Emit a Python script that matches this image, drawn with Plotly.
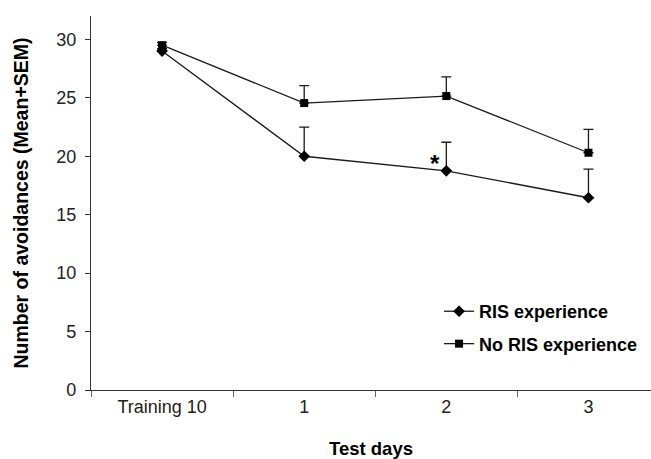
import plotly.graph_objects as go

categories = ["Training 10", "1", "2", "3"]
ris_mean = [29.0, 20.0, 18.75, 16.45]
ris_sem = [0.2, 2.5, 2.45, 2.45]
noris_mean = [29.5, 24.55, 25.15, 20.3]
noris_sem = [0.25, 1.5, 1.65, 2.0]
y_ticks = [0, 5, 10, 15, 20, 25, 30]

font_family = "Liberation Sans, Arial, sans-serif"
line_col = "#1a1a1a"
fs = 18

fig = go.Figure()
fig.add_trace(go.Scatter(
    x=categories, y=ris_mean, name="RIS experience", mode="lines+markers",
    legendgroup="a",
    line=dict(color=line_col, width=1.3),
    marker=dict(symbol="diamond", size=9, color="black"),
    error_y=dict(type="data", symmetric=False, array=ris_sem,
                 arrayminus=[0]*len(ris_sem), color=line_col, thickness=1.3, width=5),
))
fig.add_trace(go.Scatter(
    x=categories, y=noris_mean, name="No RIS experience", mode="lines+markers",
    legendgroup="b",
    line=dict(color=line_col, width=1.3),
    marker=dict(symbol="square", size=8, color="black"),
    error_y=dict(type="data", symmetric=False, array=noris_sem,
                 arrayminus=[0]*len(noris_sem), color=line_col, thickness=1.3, width=5),
))

fig.add_annotation(x=categories[2], y=ris_mean[2] + 0.6, text="<b>*</b>", showarrow=False,
                   xshift=-11, font=dict(size=24, color="black", family=font_family))

fig.update_layout(
    width=651, height=459,
    margin=dict(l=91, r=0, t=16, b=69),
    plot_bgcolor="white", paper_bgcolor="white",
    font=dict(family=font_family, size=fs, color="#222"),
    showlegend=True,
    legend=dict(x=0.6215, y=0.167, xanchor="left", yanchor="middle",
                bgcolor="rgba(0,0,0,0)", traceorder="grouped", tracegroupgap=6,
                font=dict(size=fs, color="black", family=font_family, weight="bold")),
    xaxis=dict(
        type="category", range=[-0.5, 3.44], automargin=False,
        showline=True, linecolor="#333", linewidth=1.3,
        ticks="outside", tickson="boundaries", ticklen=6, tickcolor="#666", tickwidth=1.3,
        showgrid=False, zeroline=False,
        title=dict(text="<b>Test days</b>", font=dict(size=18.5, color="black"), standoff=28),
    ),
    yaxis=dict(
        range=[0, 32], tickvals=y_ticks, automargin=False,
        showline=True, linecolor="#333", linewidth=1.3,
        ticks="outside", ticklen=5, tickcolor="#333", tickwidth=1.3, ticklabelstandoff=5,
        showgrid=False, zeroline=False,
        title=dict(text="<b>Number of avoidances (Mean+SEM)</b>",
                   font=dict(size=19.5, color="black"), standoff=22),
    ),
)

fig.write_html("out.html", config={"displayModeBar": False},
               post_script="document.body.style.margin='0';document.body.style.overflow='hidden';")
